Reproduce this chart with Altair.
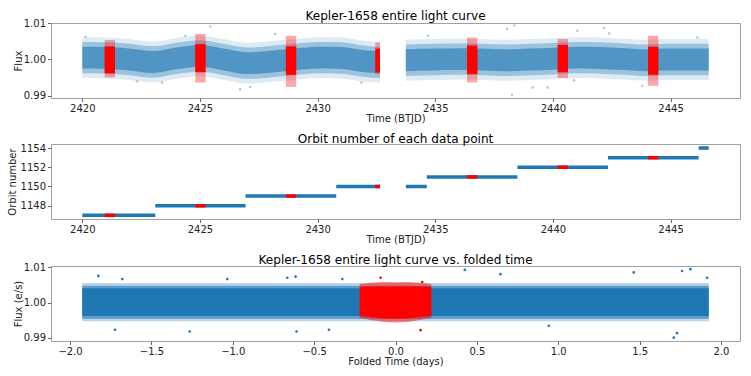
import altair as alt
import pandas as pd

FONT = "DejaVu Sans"
BLUE = "#1f77b4"
RED = "#ff0000"
GRAY = "#a0a0a0"

# ---------------- panel 1: light curve envelope ----------------
lc_seg = ["a"] * 14 + ["b"] * 14
lc_time = [2420.0, 2421.0, 2422.0, 2423.0, 2424.0, 2425.0, 2426.0, 2427.0, 2428.0, 2429.0,
           2430.0, 2431.0, 2432.0, 2432.65,
           2433.75, 2435.0, 2436.0, 2437.0, 2438.0, 2439.0, 2440.0, 2441.0, 2442.0, 2443.0,
           2444.0, 2445.0, 2446.0, 2446.62]
core_lo = [0.9975, 0.9974, 0.9970, 0.9963, 0.9973, 0.9980, 0.9970, 0.9960, 0.9964, 0.9970,
           0.9975, 0.9974, 0.9965, 0.9962,
           0.9968, 0.9970, 0.9971, 0.9970, 0.9968, 0.9970, 0.9972, 0.9975, 0.9974, 0.9971,
           0.9968, 0.9970, 0.9970, 0.9970]
core_hi = [1.0035, 1.0034, 1.0030, 1.0023, 1.0033, 1.0040, 1.0030, 1.0020, 1.0024, 1.0030,
           1.0035, 1.0034, 1.0025, 1.0022,
           1.0028, 1.0030, 1.0031, 1.0030, 1.0028, 1.0030, 1.0032, 1.0035, 1.0034, 1.0031,
           1.0028, 1.0030, 1.0030, 1.0030]
mid_lo = [0.9962, 0.9961, 0.9957, 0.9950, 0.9960, 0.9967, 0.9957, 0.9947, 0.9951, 0.9957,
          0.9962, 0.9961, 0.9952, 0.9949,
          0.9955, 0.9957, 0.9958, 0.9957, 0.9955, 0.9957, 0.9959, 0.9962, 0.9961, 0.9958,
          0.9955, 0.9957, 0.9957, 0.9957]
mid_hi = [1.0048, 1.0047, 1.0043, 1.0036, 1.0046, 1.0053, 1.0043, 1.0033, 1.0037, 1.0043,
          1.0048, 1.0047, 1.0038, 1.0035,
          1.0041, 1.0043, 1.0044, 1.0043, 1.0041, 1.0043, 1.0045, 1.0048, 1.0047, 1.0044,
          1.0041, 1.0043, 1.0043, 1.0043]
out_lo = [0.9949, 0.9948, 0.9944, 0.9937, 0.9947, 0.9954, 0.9944, 0.9934, 0.9938, 0.9944,
          0.9949, 0.9948, 0.9939, 0.9936,
          0.9942, 0.9944, 0.9945, 0.9944, 0.9942, 0.9944, 0.9946, 0.9949, 0.9948, 0.9945,
          0.9942, 0.9944, 0.9944, 0.9944]
out_hi = [1.0061, 1.0060, 1.0056, 1.0049, 1.0059, 1.0066, 1.0056, 1.0046, 1.0050, 1.0056,
          1.0061, 1.0060, 1.0051, 1.0048,
          1.0054, 1.0056, 1.0057, 1.0056, 1.0054, 1.0056, 1.0058, 1.0061, 1.0060, 1.0057,
          1.0054, 1.0056, 1.0056, 1.0056]

# sparse outlying points of the light curve
out_t = [2420.14, 2422.33, 2423.39, 2424.38, 2425.44, 2426.71, 2427.13, 2428.19, 2431.86,
         2434.69, 2438.05, 2438.26, 2438.36, 2439.14, 2439.77, 2440.90, 2441.04, 2442.17,
         2442.39, 2443.80, 2446.13]
out_f = [1.0062, 0.9940, 0.99368, 1.0065, 1.0090, 0.99187, 0.9925, 1.0070, 0.9937,
         1.0065, 1.0084, 0.9903, 1.0093, 0.9923, 0.9923, 0.9943, 1.0079, 1.0086,
         1.0071, 0.9928, 1.0060]

# in-transit windows (red)
tr_start = [2420.95, 2424.80, 2428.65, 2432.45, 2436.35, 2440.20, 2444.04]
tr_end = [2421.39, 2425.24, 2429.09, 2432.65, 2436.79, 2440.64, 2444.48]
tr_core_lo = [0.9962, 0.9965, 0.9958, 0.9965, 0.9960, 0.9965, 0.9958]
tr_core_hi = [1.0036, 1.0042, 1.0036, 1.0030, 1.0038, 1.0040, 1.0035]
tr_ext_lo = [0.9951, 0.9937, 0.9925, 0.9960, 0.9937, 0.9949, 0.9928]
tr_ext_hi = [1.0053, 1.0070, 1.0065, 1.0047, 1.0060, 1.0056, 1.0065]
tr_orbit = [1147, 1148, 1149, 1150, 1151, 1152, 1153]

# ---------------- panel 2: orbit number segments ----------------
orb_num = [1147, 1148, 1149, 1150, 1150, 1151, 1152, 1153, 1154]
orb_start = [2420.0, 2423.10, 2426.94, 2430.79, 2433.75, 2434.64, 2438.49, 2442.34, 2446.19]
orb_end = [2423.10, 2426.94, 2430.79, 2432.65, 2434.64, 2438.49, 2442.34, 2446.19, 2446.62]

# ---------------- panel 3: folded light curve ----------------
fold_start = [-1.925]
fold_end = [1.925]
fold_core = [0.9962, 1.0040]
fold_mid = [0.9954, 1.0047]
fold_out = [0.9947, 1.0055]
red_x = [-0.22, -0.15, -0.08, 0.0, 0.08, 0.15, 0.22]
red_core_lo = [0.9962, 0.9959, 0.9955, 0.9954, 0.9955, 0.9959, 0.9962]
red_core_hi = [1.0044, 1.0045, 1.0045, 1.0045, 1.0045, 1.0045, 1.0044]
red_ext_lo = [0.9957, 0.9951, 0.9946, 0.9944, 0.9946, 0.9951, 0.9957]
red_ext_hi = [1.0052, 1.0056, 1.0058, 1.0057, 1.0058, 1.0056, 1.0052]
fo_x = [-1.826, -1.724, -1.679, -1.265, -1.034, -0.665, -0.614, -0.608, -0.409, -0.327,
        0.426, 0.645, 0.942, 1.464, 1.710, 1.730, 1.761, 1.812, 1.915]
fo_f = [1.0075, 0.99231, 1.0066, 0.99183, 1.0066, 1.0070, 1.0073, 0.99183, 0.99231, 1.0066,
        1.0092, 1.0080, 0.99344, 1.0085, 0.9901, 0.99137, 1.0089, 1.0094, 1.0070]
fr_x = [-0.092, 0.154, 0.164]
fr_f = [1.0070, 0.9922, 1.0058]

W, H = 689, 75

lc = pd.DataFrame({"seg": lc_seg, "t": lc_time, "clo": core_lo, "chi": core_hi,
                   "mlo": mid_lo, "mhi": mid_hi, "olo": out_lo, "ohi": out_hi})
outl = pd.DataFrame({"t": out_t, "f": out_f})
tr = pd.DataFrame({"s": tr_start, "e": tr_end, "clo": tr_core_lo, "chi": tr_core_hi,
                   "elo": tr_ext_lo, "ehi": tr_ext_hi, "orb": tr_orbit})
orb = pd.DataFrame({"n": orb_num, "s": orb_start, "e": orb_end})

AX = dict(grid=False, domain=False, labelFont=FONT, titleFont=FONT, labelFontSize=10,
          titleFontSize=10, titleFontWeight=400, labelColor="#222222", titleColor="#222222",
          tickColor="#666666", tickSize=3.5, labelPadding=2, tickCount=20)
XAX = dict(AX, titlePadding=0)
YAX = dict(AX, titlePadding=3, labelOverlap=False)
YAXF = dict(AX, titlePadding=0, labelOverlap=False)


def ttl(text, off):
    return alt.Title(text, font=FONT, fontSize=12.1, fontWeight=400, anchor="middle",
                     offset=off, color="black")


xs1 = alt.Scale(domain=[2418.67, 2447.95], nice=False, zero=False)
ys1 = alt.Scale(domain=[0.98945, 1.0100], nice=False, zero=False)
xax1 = alt.Axis(values=[2420, 2425, 2430, 2435, 2440, 2445], format="d", title="Time (BTJD)", **XAX)
yax1 = alt.Axis(values=[0.99, 1.00, 1.01], format=".2f", title="Flux", **YAXF)

base1 = alt.Chart(lc)


def band(lo, hi, op):
    return base1.mark_area(color=BLUE, opacity=op, interpolate="monotone").encode(
        x=alt.X("t:Q", scale=xs1, axis=xax1),
        y=alt.Y(f"{lo}:Q", scale=ys1, axis=yax1),
        y2=f"{hi}:Q",
        detail="seg:N",
    )


p1 = alt.layer(
    band("olo", "ohi", 0.15),
    band("mlo", "mhi", 0.35),
    band("clo", "chi", 0.6),
    alt.Chart(outl).mark_circle(color=BLUE, opacity=0.4, size=6).encode(
        x=alt.X("t:Q", scale=xs1), y=alt.Y("f:Q", scale=ys1)),
    alt.Chart(tr).mark_rect(color=RED, opacity=0.35).encode(
        x=alt.X("s:Q", scale=xs1), x2="e:Q", y=alt.Y("elo:Q", scale=ys1), y2="ehi:Q"),
    alt.Chart(tr).mark_rect(color=RED, opacity=1).encode(
        x=alt.X("s:Q", scale=xs1), x2="e:Q", y=alt.Y("clo:Q", scale=ys1), y2="chi:Q"),
).properties(width=W, height=H, title=ttl("Kepler-1658 entire light curve", -4))

ys2 = alt.Scale(domain=[1146.62, 1154.42], nice=False, zero=False)
p2 = alt.layer(
    alt.Chart(orb).mark_rule(color=BLUE, strokeWidth=3.5).encode(
        x=alt.X("s:Q", scale=xs1, axis=xax1), x2="e:Q",
        y=alt.Y("n:Q", scale=ys2, axis=alt.Axis(values=[1148, 1150, 1152, 1154], format="d",
                                                 title="Orbit number", **YAX))),
    alt.Chart(tr).mark_rule(color=RED, strokeWidth=3.5).encode(
        x=alt.X("s:Q", scale=xs1), x2="e:Q", y=alt.Y("orb:Q", scale=ys2)),
).properties(width=W, height=H, title=ttl("Orbit number of each data point", -2))

xs3 = alt.Scale(domain=[-2.117, 2.117], nice=False, zero=False)
ys3 = alt.Scale(domain=[0.98915, 1.0103], nice=False, zero=False)
xax3 = alt.Axis(values=[-2.0, -1.5, -1.0, -0.5, 0.0, 0.5, 1.0, 1.5, 2.0], format=".1f",
                title="Folded Time (days)", **XAX)
yax3 = alt.Axis(values=[0.99, 1.00, 1.01], format=".2f", title="Flux (e/s)", **YAXF)

fb = pd.DataFrame({"s": fold_start, "e": fold_end,
                   "clo": [fold_core[0]], "chi": [fold_core[1]],
                   "mlo": [fold_mid[0]], "mhi": [fold_mid[1]],
                   "olo": [fold_out[0]], "ohi": [fold_out[1]]})
fr = pd.DataFrame({"x": red_x, "clo": red_core_lo, "chi": red_core_hi,
                   "elo": red_ext_lo, "ehi": red_ext_hi})
fo = pd.DataFrame({"x": fo_x, "f": fo_f})
fro = pd.DataFrame({"x": fr_x, "f": fr_f})


def fband(lo, hi, op):
    return alt.Chart(fb).mark_rect(color=BLUE, opacity=op).encode(
        x=alt.X("s:Q", scale=xs3, axis=xax3), x2="e:Q",
        y=alt.Y(f"{lo}:Q", scale=ys3, axis=yax3), y2=f"{hi}:Q")


p3 = alt.layer(
    fband("olo", "ohi", 0.3),
    fband("mlo", "mhi", 0.6),
    fband("clo", "chi", 1.0),
    alt.Chart(fo).mark_circle(color=BLUE, opacity=1, size=7).encode(
        x=alt.X("x:Q", scale=xs3), y=alt.Y("f:Q", scale=ys3)),
    alt.Chart(fr).mark_area(color=RED, opacity=0.5).encode(
        x=alt.X("x:Q", scale=xs3), y=alt.Y("elo:Q", scale=ys3), y2="ehi:Q"),
    alt.Chart(fr).mark_area(color=RED, opacity=1).encode(
        x=alt.X("x:Q", scale=xs3), y=alt.Y("clo:Q", scale=ys3), y2="chi:Q"),
    alt.Chart(fro).mark_circle(color=RED, opacity=1, size=7).encode(
        x=alt.X("x:Q", scale=xs3), y=alt.Y("f:Q", scale=ys3)),
).properties(width=W, height=H, title=ttl("Kepler-1658 entire light curve vs. folded time", -4))

chart = alt.vconcat(p1, p2, p3, spacing=8).properties(
    padding={"left": 6, "top": 9, "right": 5, "bottom": 5},
    background="white",
).configure_view(stroke=GRAY, strokeWidth=1)

chart.save("out.html", embed_options={"renderer": "svg", "actions": False})
